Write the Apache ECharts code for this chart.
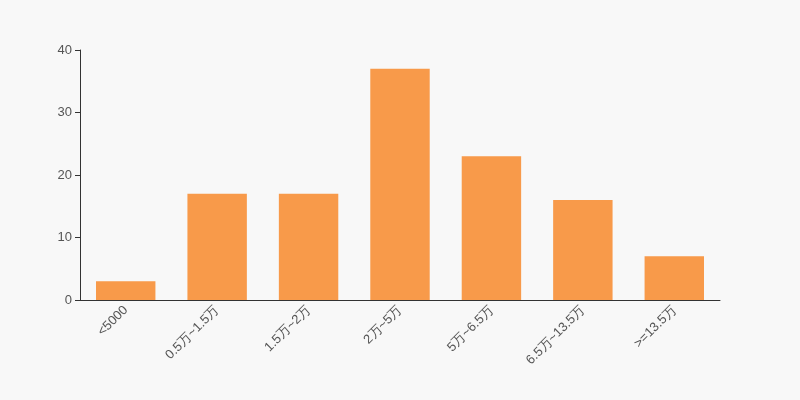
<!DOCTYPE html>
<html><head><meta charset="utf-8">
<script src="https://cdn.jsdelivr.net/npm/echarts@6/dist/echarts.min.js"></script>
<style>html,body{margin:0;padding:0;background:#f8f8f8}#c{width:800px;height:400px}</style>
</head><body><div id="c"></div>
<script>
const categories = ['<5000','0.5万~1.5万','1.5万~2万','2万~5万','5万~6.5万','6.5万~13.5万','>=13.5万'];
const values = [3,17,17,37,23,16,7];
const chart = echarts.init(document.getElementById('c'));
chart.setOption({
  backgroundColor:'#f8f8f8',
  animation:false,
  grid:{left:80,right:80,top:50,bottom:100},
  xAxis:{type:'category',data:categories,
    axisLine:{lineStyle:{color:'#333'}},
    axisTick:{lineStyle:{color:'#333'}},
    axisLabel:{rotate:45,color:'#555',fontSize:13,interval:0,margin:8}},
  yAxis:{type:'value',min:0,max:40,interval:10,
    axisLine:{show:true,lineStyle:{color:'#333'}},
    axisTick:{show:true,lineStyle:{color:'#333'}},
    splitLine:{show:false},
    axisLabel:{color:'#555',fontSize:13}},
  series:[{type:'bar',data:values,barWidth:'65%',itemStyle:{color:'#f89a4a'}}]
});
</script></body></html>
